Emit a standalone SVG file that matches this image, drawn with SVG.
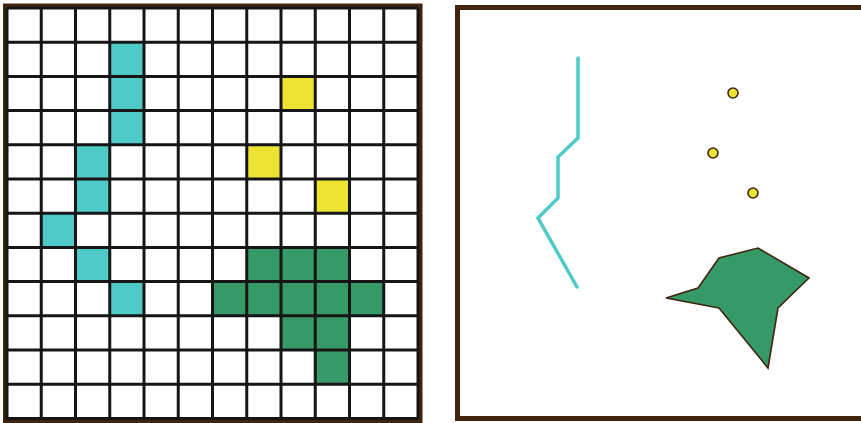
<svg xmlns="http://www.w3.org/2000/svg" width="861" height="423" viewBox="0 0 861 423">
<style>
.frame{fill:none;stroke:#40250e;stroke-width:5}
.cy{fill:#4ecbc9}
.ye{fill:#ece332}
.gr{fill:#359a68}
.grid{stroke:#161616;stroke-width:3;fill:none}
</style>
<rect width="861" height="423" fill="#ffffff"/>
<g id="grid-panel">
<rect class="frame" x="5.5" y="6" width="414.5" height="415"/>
<g id="cells">
<rect class="cy" x="109.75" y="42.2" width="34.25" height="34.2"/>
<rect class="cy" x="109.75" y="76.4" width="34.25" height="34.2"/>
<rect class="cy" x="109.75" y="110.6" width="34.25" height="34.2"/>
<rect class="cy" x="75.5" y="144.8" width="34.25" height="34.2"/>
<rect class="cy" x="75.5" y="179" width="34.25" height="34.2"/>
<rect class="cy" x="41.25" y="213.2" width="34.25" height="34.2"/>
<rect class="cy" x="75.5" y="247.4" width="34.25" height="34.2"/>
<rect class="cy" x="109.75" y="281.6" width="34.25" height="34.2"/>
<rect class="ye" x="281" y="76.4" width="34.25" height="34.2"/>
<rect class="ye" x="246.75" y="144.8" width="34.25" height="34.2"/>
<rect class="ye" x="315.25" y="179" width="34.25" height="34.2"/>
<rect class="gr" x="246.75" y="247.4" width="102.75" height="34.2"/>
<rect class="gr" x="212.5" y="281.6" width="171.25" height="34.2"/>
<rect class="gr" x="281" y="315.8" width="68.5" height="34.2"/>
<rect class="gr" x="315.25" y="350" width="34.25" height="34.2"/>
</g>
<path class="grid" d="M7 8V419M41.25 8V419M75.5 8V419M109.75 8V419M144 8V419M178.25 8V419M212.5 8V419M246.75 8V419M281 8V419M315.25 8V419M349.5 8V419M383.75 8V419M418 8V419M7 8H418M7 42.2H418M7 76.4H418M7 110.6H418M7 144.8H418M7 179H418M7 213.2H418M7 247.4H418M7 281.6H418M7 315.8H418M7 350H418M7 384.2H418M7 418.4H418"/>
</g>
<g id="map-panel">
<rect class="frame" x="457.5" y="7.5" width="412" height="411"/>
<polyline id="river" points="578,58 578,138 558,157 558,198 538,218 577,287" fill="none" stroke="#4ecbc9" stroke-width="3.5" stroke-linecap="round" stroke-linejoin="miter"/>
<polygon id="area" class="gr" points="666,298 698,288 719,258 758,248 809,278 778,308 768,368 719,308" stroke="#40250e" stroke-width="1.6" stroke-linejoin="miter"/>
<g id="points">
<circle class="ye" cx="733" cy="93" r="5" stroke="#40250e" stroke-width="1.6"/>
<circle class="ye" cx="713" cy="153" r="5" stroke="#40250e" stroke-width="1.6"/>
<circle class="ye" cx="753" cy="193" r="5" stroke="#40250e" stroke-width="1.6"/>
</g>
</g>
</svg>
